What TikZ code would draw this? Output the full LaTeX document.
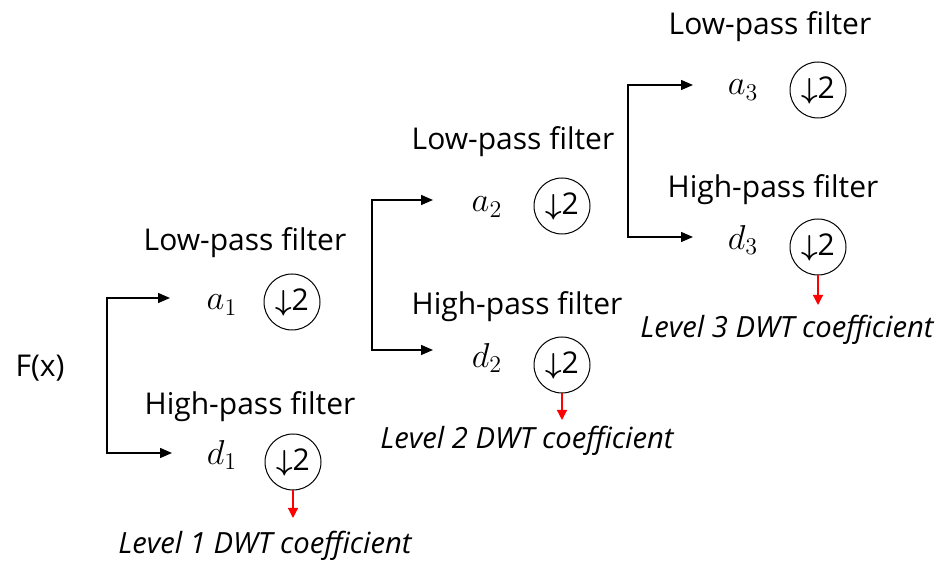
\documentclass[tikz,border=0pt]{standalone}
\usepackage{amsmath}
\usepackage{fontspec}
\setmainfont{Open Sans}
\usetikzlibrary{arrows.meta}
\definecolor{myred}{RGB}{255,0,0}

\tikzset{
  lbl/.style={font=\fontsize{15}{18}\selectfont},
  coef/.style={font=\fontsize{14.6}{17}\selectfont\itshape},
  sig/.style={font=\fontsize{18}{21}\selectfont},
  down/.style={draw, circle, minimum size=28pt, inner sep=0pt, line width=0.5pt, font=\fontsize{15}{18}\selectfont},
  arr/.style={-{Triangle[length=6pt,width=5pt]}, line width=0.7pt},
  redarr/.style={myred, -{Triangle[length=5pt,width=5pt]}, line width=0.6pt}
}

\begin{document}
\begin{tikzpicture}[x=0.5pt, y=-0.5pt]
    \useasboundingbox (0,0) rectangle (948,565);
    % Input signal
    \node[lbl] (fx) at (40,368) {F(x)};
    % Level 1
    \node[lbl] (lp1) at (245,243) {Low-pass filter};
    \node[sig] (a1) at (222,305) {$a_1$};
    \node[down] (ca1) at (292,302) {$\boldsymbol{\downarrow}$2};
    \node[lbl] (hp1) at (250,407) {High-pass filter};
    \node[sig] (d1) at (222,455) {$d_1$};
    \node[down] (cd1) at (293,462) {$\boldsymbol{\downarrow}$2};
    \node[coef] (lv1) at (265,546) {Level 1 DWT coefficient};
    \coordinate (br1) at (107,375);
    \coordinate (ta1) at (170,298);
    \coordinate (td1) at (172,453);
    \coordinate (r1) at (293,518);
    \draw[arr] (br1) |- (ta1);
    \draw[arr] (br1) |- (td1);
    \draw[redarr] (cd1) -- (r1);
    % Level 2
    \node[lbl] (lp2) at (513,142) {Low-pass filter};
    \node[sig] (a2) at (487,207) {$a_2$};
    \node[down] (ca2) at (562,206) {$\boldsymbol{\downarrow}$2};
    \node[lbl] (hp2) at (517,307) {High-pass filter};
    \node[sig] (d2) at (487,358) {$d_2$};
    \node[down] (cd2) at (562,365) {$\boldsymbol{\downarrow}$2};
    \node[coef] (lv2) at (527,441) {Level 2 DWT coefficient};
    \coordinate (br2) at (372,275);
    \coordinate (ta2) at (433,200);
    \coordinate (td2) at (433,350);
    \coordinate (r2) at (562,420);
    \draw[arr] (br2) |- (ta2);
    \draw[arr] (br2) |- (td2);
    \draw[redarr] (cd2) -- (r2);
    % Level 3
    \node[lbl] (lp3) at (770,27) {Low-pass filter};
    \node[sig] (a3) at (743,90) {$a_3$};
    \node[down] (ca3) at (818,90) {$\boldsymbol{\downarrow}$2};
    \node[lbl] (hp3) at (773,190) {High-pass filter};
    \node[sig] (d3) at (743,240) {$d_3$};
    \node[down] (cd3) at (818,247) {$\boldsymbol{\downarrow}$2};
    \node[coef] (lv3) at (787,330) {Level 3 DWT coefficient};
    \coordinate (br3) at (628,161);
    \coordinate (ta3) at (693,85);
    \coordinate (td3) at (693,237);
    \coordinate (r3) at (818,305);
    \draw[arr] (br3) |- (ta3);
    \draw[arr] (br3) |- (td3);
    \draw[redarr] (cd3) -- (r3);
\end{tikzpicture}
\end{document}
